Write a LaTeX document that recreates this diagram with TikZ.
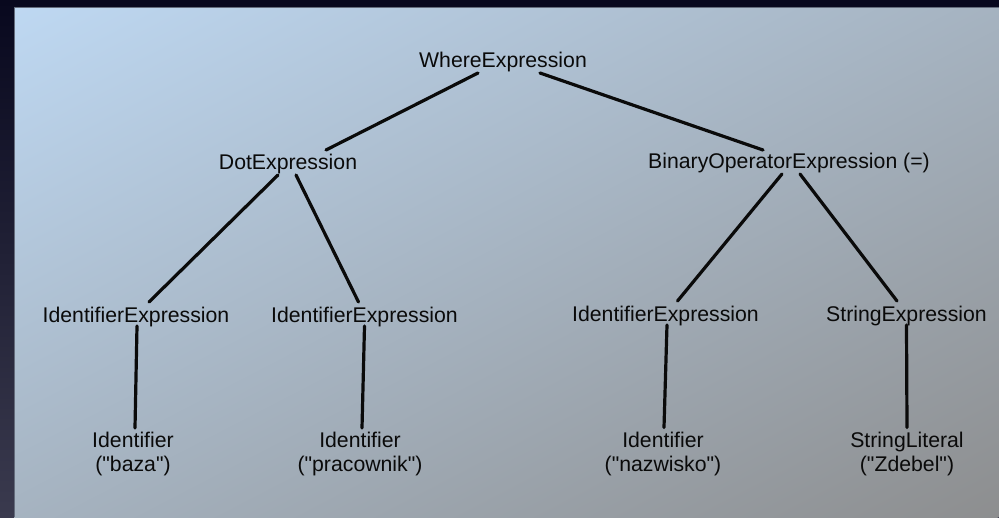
\documentclass[tikz,border=0pt]{standalone}
\usepackage{fontspec}
\setmainfont{Liberation Sans}[Ligatures=TeXOff]
\definecolor{bgtop}{RGB}{8,8,30}
\definecolor{bgbot}{RGB}{58,58,78}
\definecolor{paneltl}{RGB}{190,216,242}
\definecolor{panelmid}{RGB}{166,182,202}
\definecolor{panelbr}{RGB}{141,142,143}
\definecolor{paneledge}{RGB}{100,108,124}
\definecolor{inkc}{RGB}{10,10,10}
\begin{document}
\begin{tikzpicture}[x=1pt,y=-1pt,
  lbl/.style={inner sep=0pt, anchor=base, font=\fontsize{21.25}{24}\selectfont, text=inkc},
  leaf/.style={lbl, anchor=north, align=center},
  edge/.style={line width=3.2pt, line cap=round, draw=inkc}]
\useasboundingbox (0,0) rectangle (999,517);
\shade[top color=bgtop, bottom color=bgbot] (0,0) rectangle (999,517);
\begin{scope}
\clip (14,7) rectangle (999,517);
\shade[top color=paneltl, middle color=panelmid, bottom color=panelbr,
  transform canvas={rotate around={27.38:(506.5,262)}}] (-193.5,-190.85) rectangle (1206.5,714.85);
\end{scope}
\draw[paneledge, line width=0.8pt] (14.4,517) -- (14.4,7.4) -- (999,7.4);

\node[lbl] (where) at (503,67) {WhereExpression};
\node[lbl] (dot) at (288,169) {DotExpression};
\node[lbl] (bin) at (789,168) {BinaryOperatorExpression (=)};
\node[lbl] (ie1) at (136,322) {IdentifierExpression};
\node[lbl] (ie2) at (364.5,322) {IdentifierExpression};
\node[lbl] (ie3) at (665.5,321) {IdentifierExpression};
\node[lbl] (se) at (906.5,321) {StringExpression};
\node[leaf] (id1) at (133,431.5) {Identifier\\("baza")};
\node[leaf] (id2) at (360,431.5) {Identifier\\("pracownik")};
\node[leaf] (id3) at (663,431.5) {Identifier\\("nazwisko")};
\node[leaf] (id4) at (907,431.5) {StringLiteral\\("Zdebel")};

\draw[edge] ([shift={(-25,6)}]where.base) -- ([shift={(38,-19)}]dot.base);
\draw[edge] ([shift={(37,6)}]where.base) -- ([shift={(-26,-18)}]bin.base);
\draw[edge] ([shift={(-10,6)}]dot.base) -- ([shift={(13,-20)}]ie1.base);
\draw[edge] ([shift={(8,6)}]dot.base) -- ([shift={(-6,-20)}]ie2.base);
\draw[edge] ([shift={(-7,6)}]bin.base) -- ([shift={(12,-20)}]ie3.base);
\draw[edge] ([shift={(11,6)}]bin.base) -- ([shift={(-9.5,-20)}]se.base);
\draw[edge] ([shift={(1,4)}]ie1.base) -- ([shift={(2,-3.5)}]id1.north);
\draw[edge] ([shift={(0,4)}]ie2.base) -- ([shift={(2,-3.5)}]id2.north);
\draw[edge] ([shift={(1.5,4)}]ie3.base) -- ([shift={(1,-4)}]id3.north);
\draw[edge] ([shift={(0,4)}]se.base) -- ([shift={(0,-4)}]id4.north);
\end{tikzpicture}
\end{document}
